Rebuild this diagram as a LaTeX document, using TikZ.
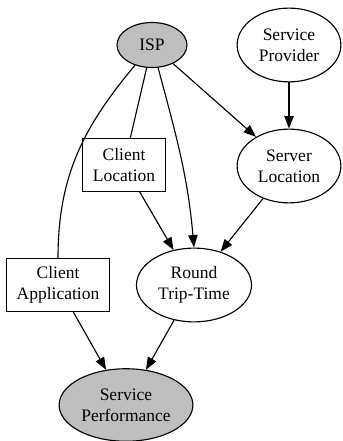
\documentclass[tikz,border=0pt]{standalone}
\usepackage{fontspec}
\setmainfont{Liberation Serif}
\usetikzlibrary{arrows.meta,shapes.geometric}
\tikzset{
  every node/.style={font=\fontsize{14}{16.5}\selectfont, align=center, draw=black, line width=0.9pt, inner sep=0pt},
  factor/.style={ellipse},
  obs/.style={ellipse, fill=black!25},
  given/.style={rectangle},
  dep/.style={line width=0.9pt, -{Triangle[length=10pt,width=7.5pt]}},
  link/.style={line width=0.9pt}
}

\begin{document}
\begin{tikzpicture}[x=0.8pt,y=-0.8pt]
\useasboundingbox (0,0) rectangle (342,441);

% ---------- top row
\node[obs, minimum width=56pt, minimum height=36pt] (isp) at (152,45) {ISP};
\node[factor, minimum width=83pt, minimum height=59pt] (sprov) at (289,45) {Service\\Provider};

% ---------- middle
\node[given, minimum width=66pt, minimum height=42pt] (cloc) at (124,165) {Client\\Location};
\node[factor, minimum width=83pt, minimum height=59pt] (sloc) at (289,166) {Server\\Location};

% ---------- lower
\node[given, minimum width=82pt, minimum height=42pt] (capp) at (58,285) {Client\\Application};
\node[factor, minimum width=92pt, minimum height=59pt] (rtt) at (194,285) {Round\\Trip-Time};
\node[obs, minimum width=107pt, minimum height=58pt] (sperf) at (126,405) {Service\\Performance};

% edges out of the ISP
\draw[link, out=-130, in=90] (isp) to (capp.north);
\draw[link] (isp) -- (cloc);
\draw[dep, out=-75, in=95] (isp) to (rtt.north);
\draw[dep] (isp) -- (sloc);

\draw[dep] (sprov) -- (sloc);
\draw[dep] (cloc) -- (rtt);
\draw[dep] (sloc) -- (rtt);

% into the performance node
\draw[dep] (capp) -- (sperf);
\draw[dep] (rtt) -- (sperf);
\end{tikzpicture}
\end{document}
